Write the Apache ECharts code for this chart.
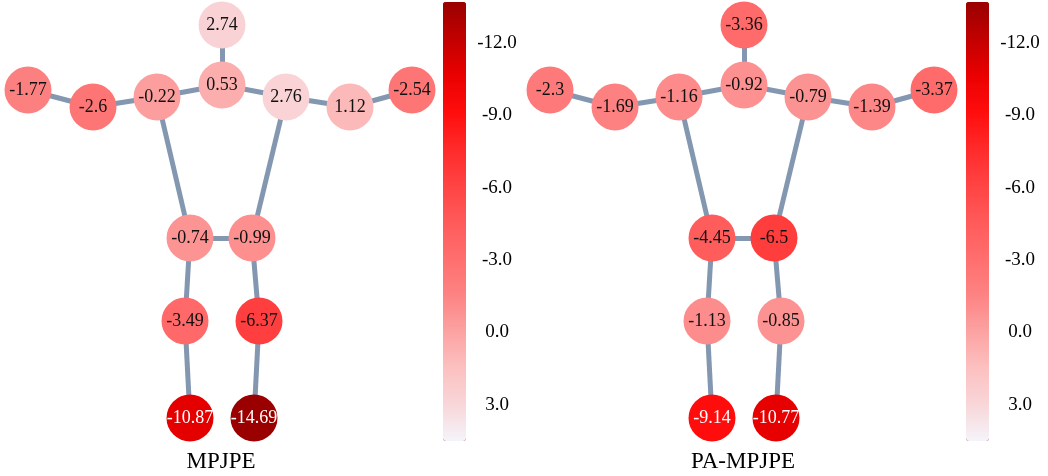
<!DOCTYPE html>
<html>
<head>
<meta charset="utf-8">
<script src="https://cdn.jsdelivr.net/npm/echarts@6/dist/echarts.min.js"></script>
<style>html,body{margin:0;padding:0;background:#fff;}#chart{width:1048px;height:476px;}</style>
</head>
<body>
<div id="chart"></div>
<script>
// ---- data ----
const jointNames = ['head','neck','lShoulder','lElbow','lWrist','rShoulder','rElbow','rWrist','lHip','rHip','lKnee','rKnee','lAnkle','rAnkle'];
const jointX = [0, 0, -65, -129, -194, 64, 128, 190, -32, 30, -37, 37, -32, 32];
const jointY = [0, 60, 72, 82, 65, 72, 82, 65, 213, 213, 296, 296, 393, 393];
const bones = [[0,1],[1,2],[2,3],[3,4],[1,5],[5,6],[6,7],[2,8],[5,9],[8,9],[8,10],[10,12],[9,11],[11,13]];
const mpjpe   = [2.74, 0.53, -0.22, -2.6, -1.77, 2.76, 1.12, -2.54, -0.74, -0.99, -3.49, -6.37, -10.87, -14.69];
const paMpjpe = [-3.36, -0.92, -1.16, -1.69, -2.3, -0.79, -1.39, -3.37, -4.45, -6.5, -1.13, -0.85, -9.14, -10.77];
const panelTitles = ['MPJPE', 'PA-MPJPE'];
const colorbarTicks = [-12, -9, -6, -3, 0, 3];
const colorMin = -13.70, colorMax = 4.51;
const colorStops = ['#9a0000','#c20000','#ea0000','#ff0d0d','#ff2a2a','#ff4343','#ff5a5a','#ff6e6e','#fd8383','#fca2a2','#fcc0c0','#f8d6d9','#f4f4fa'];

const panelValues = [mpjpe, paMpjpe];
const panelLeft = [0, 522];
const barLeft = [443, 966];
const FONT = 'Liberation Serif';

const chart = echarts.init(document.getElementById('chart'), null, {renderer: 'canvas'});

const grids = [], xAxes = [], yAxes = [], series = [], visualMaps = [], titles = [];
panelValues.forEach((vals, p) => {
  // skeleton grid
  grids.push({left: panelLeft[p], top: 0, width: 440, height: 476});
  xAxes.push({type: 'value', gridIndex: grids.length - 1, min: -222, max: 218, show: false});
  yAxes.push({type: 'value', gridIndex: grids.length - 1, min: -25, max: 451, inverse: true, show: false});
  const ai = xAxes.length - 1;
  // bones
  series.push({
    type: 'graph',
    coordinateSystem: 'cartesian2d',
    xAxisIndex: ai, yAxisIndex: ai,
    symbolSize: 0,
    silent: true,
    z: 1,
    emphasis: {disabled: true},
    label: {show: false},
    lineStyle: {color: '#8497b0', width: 5, opacity: 1, curveness: 0},
    edgeSymbol: ['none', 'none'],
    data: jointNames.map((n, i) => ({name: n, value: [jointX[i], jointY[i]]})),
    links: bones.map(b => ({source: b[0], target: b[1]}))
  });
  // joints
  series.push({
    type: 'scatter',
    xAxisIndex: ai, yAxisIndex: ai,
    symbol: 'circle', symbolSize: 47,
    silent: true,
    z: 3,
    emphasis: {disabled: true},
    itemStyle: {opacity: 1, borderWidth: 0},
    label: {show: true, position: 'inside', fontFamily: FONT, fontSize: 18,
            formatter: (d) => String(d.value[2])},
    data: jointNames.map((n, i) => ({
      name: n, value: [jointX[i], jointY[i], vals[i]],
      label: {color: vals[i] < -8 ? '#ffffff' : '#111111'}
    }))
  });
  visualMaps.push({
    type: 'continuous', seriesIndex: series.length - 1, dimension: 2,
    min: colorMin, max: colorMax, inverse: true, calculable: false,
    orient: 'vertical', left: barLeft[p], top: 2, padding: 0,
    itemWidth: 23, itemHeight: 439, text: null,
    inRange: {color: colorStops},
    outOfRange: {color: '#9a0000'}
  });
  // colorbar tick axis
  grids.push({left: barLeft[p], top: 2, width: 23, height: 439});
  xAxes.push({type: 'value', gridIndex: grids.length - 1, show: false});
  yAxes.push({
    type: 'value', gridIndex: grids.length - 1, position: 'right',
    min: colorMin, max: colorMax, inverse: true,
    axisLine: {show: false}, splitLine: {show: false},
    axisTick: {show: true, length: 5, lineStyle: {color: '#000', width: 1}, customValues: colorbarTicks},
    axisLabel: {show: true, customValues: colorbarTicks, color: '#000', fontFamily: FONT, fontSize: 19,
                margin: 31, align: 'center', formatter: v => Number(v).toFixed(1)}
  });
  titles.push({
    text: panelTitles[p], left: panelLeft[p] + 221, top: 450, textAlign: 'center', padding: 0,
    textStyle: {fontFamily: FONT, fontSize: 23, fontWeight: 'normal', color: '#000'}
  });
});

chart.setOption({
  animation: false,
  backgroundColor: '#fff',
  title: titles,
  grid: grids,
  xAxis: xAxes,
  yAxis: yAxes,
  visualMap: visualMaps,
  series: series
});
</script>
</body>
</html>
